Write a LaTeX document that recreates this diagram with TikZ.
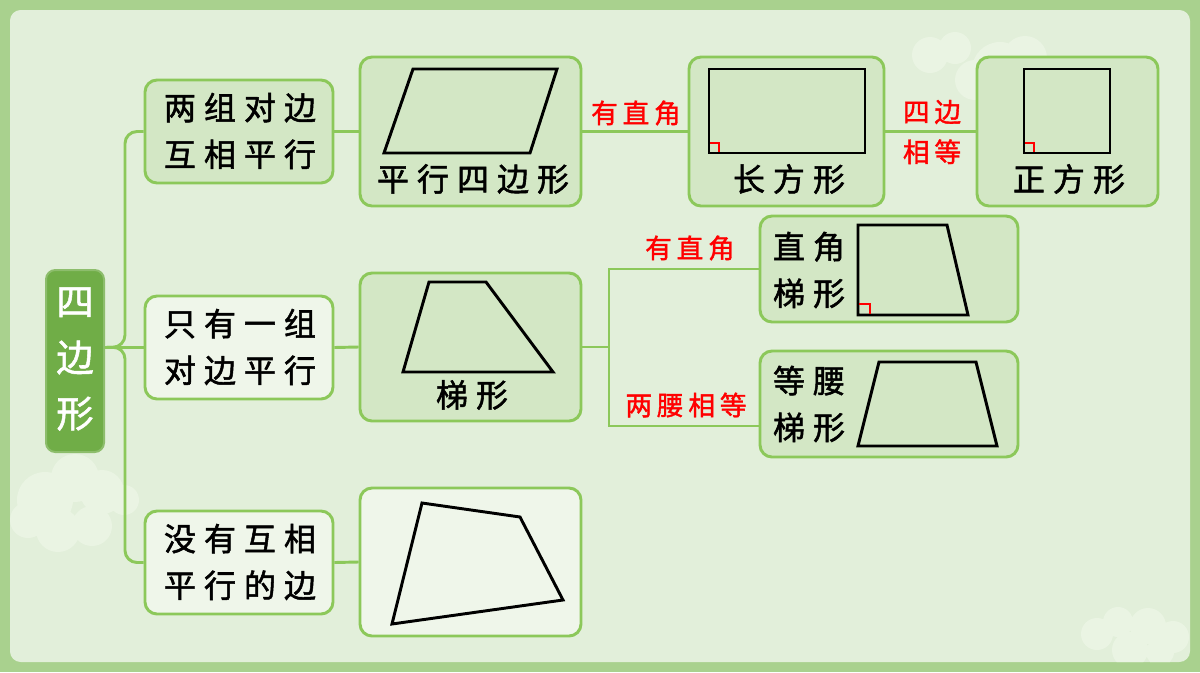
\documentclass[tikz,border=0pt]{standalone}
\usepackage{fontspec}
\newfontfamily\cjk[LetterSpace=25,FakeBold=1.6]{Noto Sans CJK SC}
\newfontfamily\cjkred[LetterSpace=18,FakeBold=1.4]{Noto Sans CJK SC}
\newfontfamily\cjkroot[FakeBold=1.4]{Noto Sans CJK SC}
\usetikzlibrary{fit}
\definecolor{outerc}{HTML}{A9D18E}
\definecolor{panelc}{HTML}{E2EFDA}
\definecolor{borderc}{HTML}{8CC85A}
\definecolor{rootc}{HTML}{70AD47}
\definecolor{gfill}{HTML}{D3E7C5}
\definecolor{wfill}{HTML}{EFF6EA}
\definecolor{cloudc}{HTML}{EAF4E3}
\definecolor{redc}{HTML}{FF0000}
\tikzset{
  gbox/.style={draw=borderc, fill=gfill, line width=2.2pt, rounded corners=9pt, inner sep=0pt},
  wbox/.style={draw=borderc, fill=wfill, line width=2.2pt, rounded corners=9pt, inner sep=0pt},
  rootbox/.style={draw=rootc!80!white, fill=rootc, line width=1.5pt, rounded corners=7pt, inner sep=0pt},
  conn/.style={draw=borderc, line width=2.2pt},
  txt/.style={align=center, inner sep=0pt, font=\cjk\fontsize{24}{35}\selectfont},
  redlbl/.style={text=redc, align=center, inner sep=0pt, font=\cjkred\fontsize{20}{30}\selectfont},
  figline/.style={draw=black, line width=2.2pt, line join=miter},
  rmark/.style={draw=redc, line width=1.5pt},
}
\begin{document}
\begin{tikzpicture}[x=0.75pt,y=-0.75pt]
\useasboundingbox (0,0) rectangle (1200,672);
% background
\fill[outerc] (0,0) rectangle (1200,672);
\fill[panelc, rounded corners=8pt] (10,10) rectangle (1190,662);
% clouds
\begin{scope}
\clip[rounded corners=8pt] (10,10) rectangle (1190,662);
\fill[cloudc] (45,500) circle (28) (75,478) circle (24) (102,492) circle (22) (124,500) circle (15)
  (58,530) circle (22) (92,526) circle (20) (28,520) circle (18);
\fill[cloudc] (1097,634) circle (16) (1118,622) circle (15) (1148,626) circle (18) (1173,637) circle (16)
  (1130,650) circle (18) (1160,652) circle (14);
\fill[cloudc] (1000,70) circle (28) (1025,58) circle (22) (975,80) circle (20) (930,55) circle (18) (955,48) circle (16);
\end{scope}
% boxes
\node[rootbox, fit={(46,270) (104,452)}] (Q) {};
\node[gbox, fit={(145,80) (333,183)}] (A1) {};
\node[gbox, fit={(360,57) (581,206)}] (A2) {};
\node[gbox, fit={(689,57) (884,206)}] (R) {};
\node[gbox, fit={(977,57) (1158,206)}] (S) {};
\node[wbox, fit={(145,296) (333,399)}] (B1) {};
\node[gbox, fit={(360,273) (581,421)}] (B2) {};
\node[gbox, fit={(760,216) (1018,322)}] (RT) {};
\node[gbox, fit={(760,351) (1018,457)}] (IT) {};
\node[wbox, fit={(145,511) (333,614)}] (C1) {};
\node[wbox, fit={(360,488) (581,636)}] (C2) {};
% connectors
\coordinate (rs) at (Q.east |- B1.west);
\coordinate (rj) at (125,347);
\draw[conn, rounded corners=9pt] (rs) -- (rj) |- (A1.west);
\draw[conn, rounded corners=9pt] (rs) -- (rj) |- (C1.west);
\draw[conn] (rs) -- (B1.west);
\draw[conn] (A1.east) -- (A2.west);
\draw[conn] (A2.east) -- (R.west);
\draw[conn] (R.east) -- (S.west);
\draw[conn] (B1.east) -- (B2.west);
\draw[conn] (C1.east) -- (C2.west);
\coordinate (bj) at (609,347);
\coordinate (itin) at (760,426);
\draw[conn] (B2.east) -- (bj);
\draw[conn] (bj) |- (RT.west);
\draw[conn] (bj) |- (itin);
% texts
\node[text=white, align=center, inner sep=0pt, font=\cjkroot\fontsize{28}{42}\selectfont] (Qt) at (75,359) {四\\边\\形};
\node[txt] (A1t) at (240,131) {两组对边\\互相平行};
\node[txt] (B1t) at (240,347) {只有一组\\对边平行};
\node[txt] (C1t) at (240,562) {没有互相\\平行的边};
\node[txt] (A2t) at (473,179) {平行四边形};
\node[txt] (Rt) at (789,179) {长方形};
\node[txt] (St) at (1069,179) {正方形};
\node[txt] (B2t) at (472,395) {梯形};
\node[txt] (RTt) at (809,270) {直角\\梯形};
\node[txt] (ITt) at (809,404) {等腰\\梯形};
\node[redlbl] (l1) at (636,113) {有直角};
\node[redlbl] (l2) at (932,132) {四边\\相等};
\node[redlbl] (l3) at (690,248) {有直角};
\node[redlbl] (l4) at (686,405) {两腰相等};
% figures
\draw[figline] (413,69) -- (557,69) -- (530,153) -- (384,153) -- cycle;
\draw[figline] (709,69) rectangle (865,153);
\draw[rmark] (710,143) -| (719,152);
\draw[figline] (1024,69) rectangle (1110,153);
\draw[rmark] (1025,143) -| (1034,152);
\draw[figline] (429,282) -- (486,282) -- (553,372) -- (403,372) -- cycle;
\draw[figline] (858,225) -- (947,225) -- (968,315) -- (858,315) -- cycle;
\draw[rmark] (859,304) -| (870,314);
\draw[figline] (879,362) -- (976,362) -- (997,446) -- (858,446) -- cycle;
\draw[figline] (422,503) -- (520,517) -- (563,600) -- (392,624) -- cycle;
\end{tikzpicture}
\end{document}
